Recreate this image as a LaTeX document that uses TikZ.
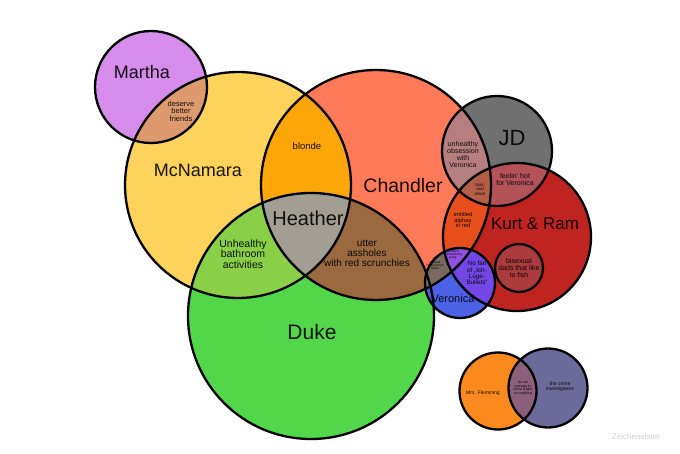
\documentclass[tikz,border=0pt]{standalone}
\usepackage{fontspec}
\setmainfont{Liberation Sans}
\definecolor{cMar}{HTML}{D58CEB}
\definecolor{cMarMcN}{HTML}{DD9A6E}
\definecolor{cMcN}{HTML}{FDD35C}
\definecolor{cCha}{HTML}{FF7A59}
\definecolor{cBlonde}{HTML}{FCA60A}
\definecolor{cHea}{HTML}{A39E93}
\definecolor{cDuke}{HTML}{52D64A}
\definecolor{cMcNDuke}{HTML}{8ACF48}
\definecolor{cChaDuke}{HTML}{9A6940}
\definecolor{cJD}{HTML}{707070}
\definecolor{cJDCha}{HTML}{B77E7F}
\definecolor{cJDKurt}{HTML}{B4525A}
\definecolor{cJDChaKurt}{HTML}{B45E48}
\definecolor{cKurt}{HTML}{BF2421}
\definecolor{cChaKurt}{HTML}{E64F1C}
\definecolor{cBi}{HTML}{AB3B3D}
\definecolor{cVer}{HTML}{4B62E6}
\definecolor{cVerKurt}{HTML}{7346E6}
\definecolor{cVerCha}{HTML}{7A6A5E}
\definecolor{cVerChaKurt}{HTML}{9351E0}
\definecolor{cFle}{HTML}{FB8A1E}
\definecolor{cInv}{HTML}{6B6A9B}
\definecolor{cFleInv}{HTML}{8C5F7B}
\def\cirMar{(151,87) circle[radius=56pt]}
\def\cirMcN{(238,185) circle[radius=113pt]}
\def\cirCha{(376,185) circle[radius=115pt]}
\def\cirDuke{(311,316) circle[radius=123pt]}
\def\cirJD{(497,151) circle[radius=55pt]}
\def\cirKurt{(517,237) circle[radius=74pt]}
\def\cirBi{(519,268) circle[radius=24pt]}
\def\cirVer{(460,283) circle[radius=35pt]}
\def\cirFle{(498,391) circle[radius=38.5pt]}
\def\cirInv{(548,388) circle[radius=39.5pt]}
\begin{document}
\begin{tikzpicture}[x=1pt,y=-1pt,
  lbl/.style={align=center, text opacity=0.9, inner sep=0pt, font=\fontsize{#1}{#1}\selectfont},
  lbl/.default=10,
  outl/.style={draw=black, line width=2.3pt}]
\useasboundingbox (0,0) rectangle (680,454);
\fill[white] (0,0) rectangle (680,454);
% base fills
\fill[cMar] \cirMar;
\fill[cMcN] \cirMcN;
\fill[cCha] \cirCha;
\fill[cDuke] \cirDuke;
\fill[cJD] \cirJD;
\fill[cKurt] \cirKurt;
\fill[cVer] \cirVer;
\fill[cFle] \cirFle;
\fill[cInv] \cirInv;
% pair intersections
\begin{scope}\clip \cirMcN; \fill[cMarMcN] \cirMar; \end{scope}
\begin{scope}\clip \cirMcN; \fill[cBlonde] \cirCha; \end{scope}
\begin{scope}\clip \cirMcN; \fill[cMcNDuke] \cirDuke; \end{scope}
\begin{scope}\clip \cirCha; \fill[cChaDuke] \cirDuke; \end{scope}
\begin{scope}\clip \cirCha; \fill[cJDCha] \cirJD; \end{scope}
\begin{scope}\clip \cirKurt; \fill[cJDKurt] \cirJD; \end{scope}
\begin{scope}\clip \cirCha; \fill[cChaKurt] \cirKurt; \end{scope}
\begin{scope}\clip \cirCha; \fill[cVerCha] \cirVer; \end{scope}
\begin{scope}\clip \cirKurt; \fill[cVerKurt] \cirVer; \end{scope}
\begin{scope}\clip \cirFle; \fill[cFleInv] \cirInv; \end{scope}
% triple intersections
\begin{scope}\clip \cirMcN; \clip \cirCha; \fill[cHea] \cirDuke; \end{scope}
\begin{scope}\clip \cirJD; \clip \cirCha; \fill[cJDChaKurt] \cirKurt; \end{scope}
\begin{scope}\clip \cirVer; \clip \cirCha; \fill[cVerChaKurt] \cirKurt; \end{scope}
\fill[cBi] \cirBi;
% outlines
\foreach \c in {\cirMar,\cirMcN,\cirCha,\cirDuke,\cirJD,\cirKurt,\cirBi,\cirVer,\cirFle,\cirInv}
  {\draw[outl] \c;}
% labels
\node[lbl=18] (tMartha) at (142,72) {Martha};
\node[lbl=7.5] (tDeserve) at (181,111) {deserve\\better\\friends};
\node[lbl=18] (tMcN) at (198,170) {McNamara};
\node[lbl=9.5] (tBlonde) at (307,146) {blonde};
\node[lbl=19.5] (tCha) at (403,186) {Chandler};
\node[lbl=20] (tHea) at (308,218) {Heather};
\node[lbl=10.5] (tBath) at (243,254) {Unhealthy\\bathroom\\activities};
\node[lbl=10] (tUtter) at (367,253) {utter\\assholes\\with red scrunchies};
\node[lbl=21] (tDuke) at (312,332) {Duke};
\node[lbl=22] (tJD) at (512,138) {JD};
\node[lbl=7] (tObs) at (463,155) {unhealthy\\obsession\\with\\Veronica};
\node[lbl=7] (tHot) at (515,180) {feelin' hot\\for Veronica};
\node[lbl=4.5] (tToxic) at (480,189) {toxic\\and\\dead};
\node[lbl=5.8] (tAlpha) at (463,220) {entitled\\alphas\\in red};
\node[lbl=17] (tKurt) at (535,224) {Kurt \& Ram};
\node[lbl=7] (tBi) at (519,268) {bisexual\\dads that like\\to fish};
\node[lbl=6.3] (tNoFan) at (477,273) {No fan\\of „Ich-\\Lüge-\\Bullets“};
\node[lbl=3.2] (tTinyP) at (453,255) {at Ram's\\homecoming\\party};
\node[lbl=3.2] (tTinyG) at (435,264) {not\\good at\\holding their\\liquor};
\node[lbl=11] (tVer) at (453,299) {Veronica};
\node[lbl=5] (tFle) at (483,393) {Mrs. Flemming};
\node[lbl=5] (tInv) at (560,387) {the crime\\investigators};
\node[lbl=3.5] (tShine) at (523,388) {do not\\manage to\\shine a light\\on anything};
\node[inner sep=0pt, text=black!18, font=\fontsize{8}{8}\selectfont] (tSig) at (636,437) {Zeichenelster};
\end{tikzpicture}
\end{document}
